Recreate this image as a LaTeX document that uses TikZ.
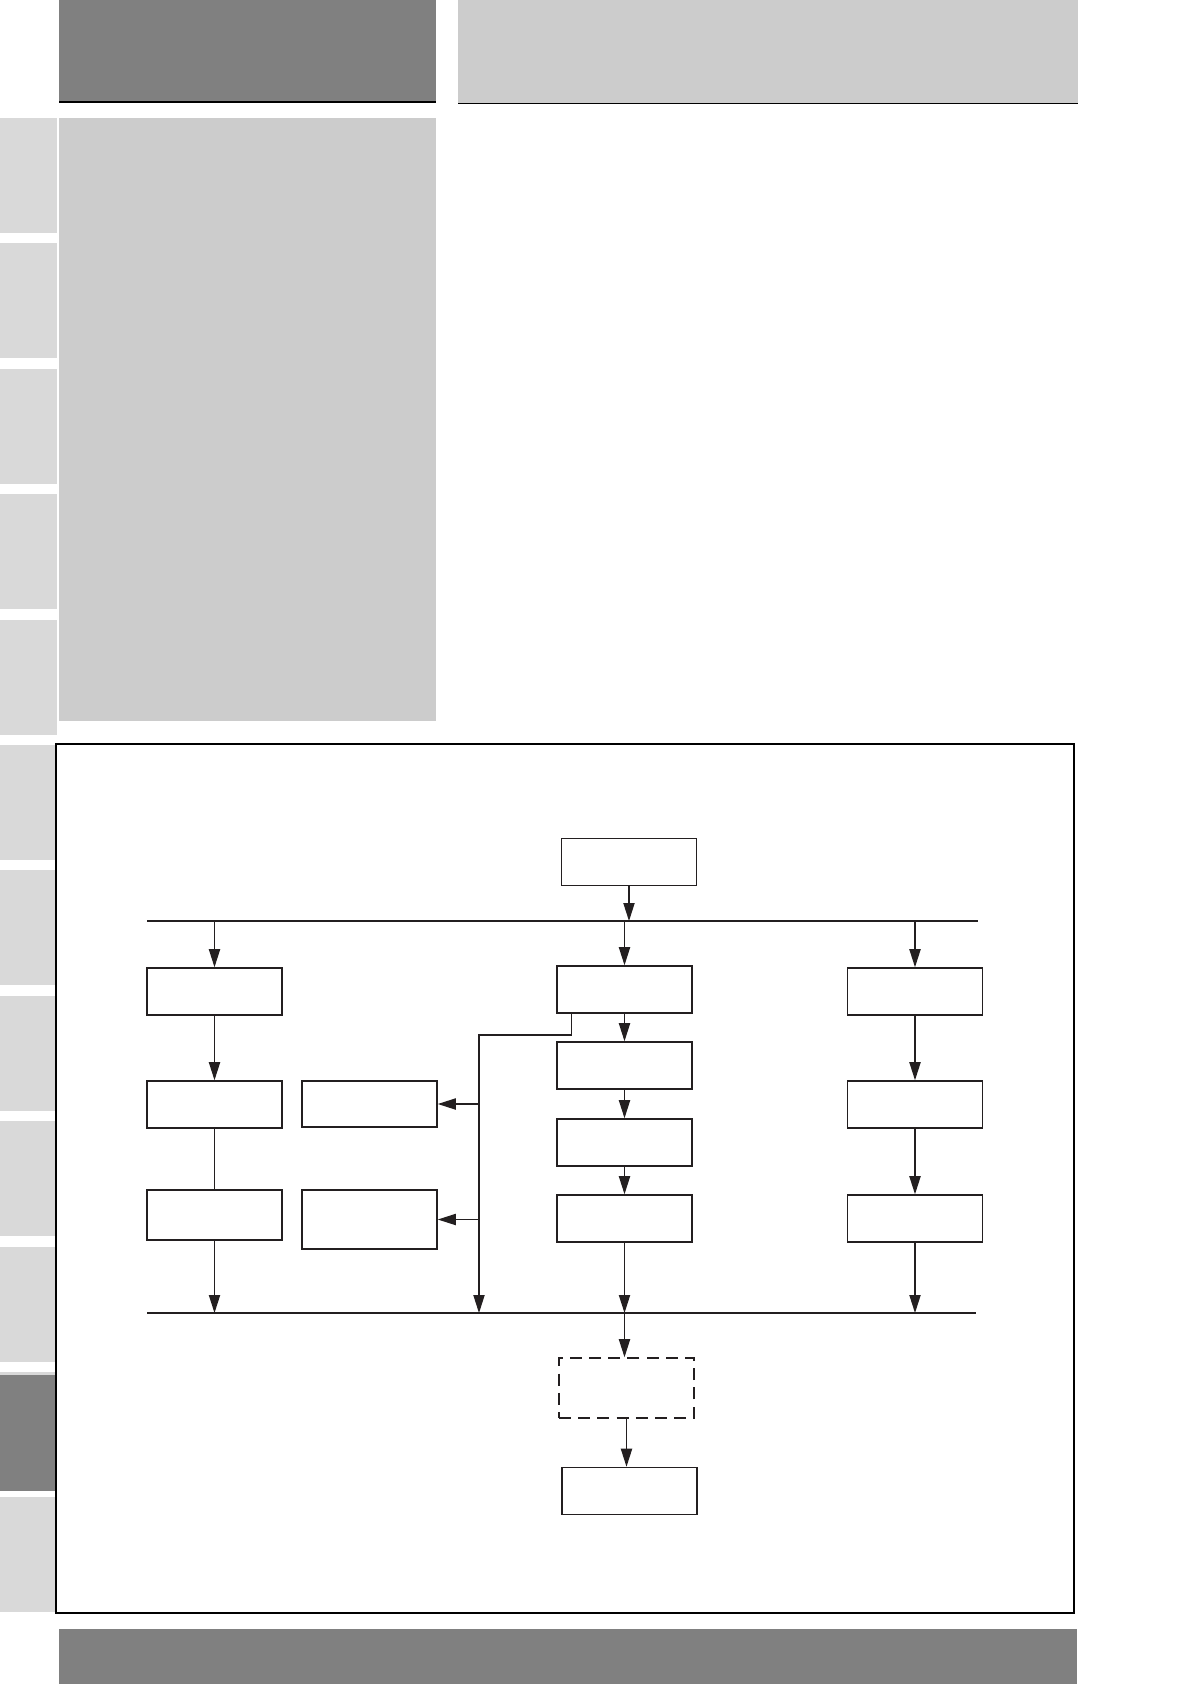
\documentclass[tikz,border=0pt]{standalone}
\usepackage{tikz}
\usepackage{xcolor}
\usetikzlibrary{calc,arrows.meta}
\definecolor{tabGrey}{RGB}{217,217,217}
\definecolor{paleGrey}{RGB}{204,204,204}
\definecolor{midGrey}{RGB}{128,128,128}
\definecolor{inkBlack}{RGB}{35,31,32}
\tikzset{
  blk/.style={draw=inkBlack,line width=1.1pt,inner sep=0pt,minimum width=3.375cm,minimum height=1.175cm},
  dblk/.style={blk,dash pattern=on 0.3cm off 0.18cm},
  arr/.style={draw=inkBlack,line width=0.9pt,-{Triangle[length=0.45cm,width=0.28cm]}},
  wire/.style={draw=inkBlack,line width=0.9pt},
}

\begin{document}
\begin{tikzpicture}[x=0.025cm,y=-0.025cm]
\useasboundingbox (0,0) rectangle (1190,1684);
% page furniture
\fill[midGrey] (59,0) rectangle (436,102);
\fill[paleGrey] (458,0) rectangle (1078,103);
\draw[black,line width=1.4pt] (59,102) -- (436,102);
\draw[black,line width=1.4pt] (458,103.5) -- (1078,103.5);
\fill[paleGrey] (59,118) rectangle (436,721);
\foreach \k in {0,...,11}
  \fill[tabGrey] (0,{118+125.4*\k}) rectangle (57,{233+125.4*\k});
\fill[midGrey] (0,1375) rectangle (57,1491);
\fill[midGrey] (59,1629) rectangle (1077,1684);
\fill[white] (56,744) rectangle (1074,1613);
\draw[black,line width=1.2pt] (56,744) rectangle (1074,1613);

% blocks
\node[blk] (top) at (629,862) {};
\node[blk] (L1) at (214.5,991.5) {};
\node[blk] (C1) at (624.5,989.5) {};
\node[blk] (R1) at (915,991.5) {};
\node[blk] (L2) at (214.5,1104.5) {};
\node[blk,minimum height=1.15cm] (M1) at (369.5,1104) {};
\node[blk] (C2) at (624.5,1065.5) {};
\node[blk] (C3) at (624.5,1142.5) {};
\node[blk] (R2) at (915,1104.5) {};
\node[blk,minimum height=1.25cm] (L3) at (214.5,1215) {};
\node[blk,minimum height=1.475cm] (M2) at (369.5,1219.5) {};
\node[blk] (C4) at (624.5,1218.5) {};
\node[blk] (R3) at (915,1218.5) {};
\node[dblk,minimum height=1.5cm] (D) at (626.5,1388) {};
\node[blk] (F) at (629.5,1491) {};

% buses
\coordinate (busA) at (147,921);
\coordinate (busAe) at (978,921);
\coordinate (busB) at (147,1313);
\coordinate (busBe) at (976,1313);
\coordinate (split) at (479,1035);
\draw[wire] (busA) -- (busAe);
\draw[wire] (busB) -- (busBe);

% connectors
\draw[arr] (top.south) -- (top.south |- busA);
\draw[arr] (L1.north |- busA) -- (L1.north);
\draw[arr] (C1.north |- busA) -- (C1.north);
\draw[arr] (R1.north |- busA) -- (R1.north);
\draw[arr] (L1.south) -- (L2.north);
\draw[wire] (L2.south) -- (L3.north);
\draw[arr] (L3.south) -- (L3.south |- busB);
\draw[arr] (C1.south) -- (C2.north);
\draw[arr] (C2.south) -- (C3.north);
\draw[arr] (C3.south) -- (C4.north);
\draw[arr] (C4.south) -- (C4.south |- busB);
\draw[arr] (R1.south) -- (R2.north);
\draw[arr] (R2.south) -- (R3.north);
\draw[arr] (R3.south) -- (R3.south |- busB);
\draw[arr] ($(C1.south west)+(15,0)$) |- (split) -- (split |- busB);
\draw[arr] (split |- M1.east) -- (M1.east);
\draw[arr] (split |- M2.east) -- (M2.east);
\draw[arr] (C4.south |- busB) -- (C4.south |- D.north);
\draw[arr] (D.south) -- (D.south |- F.north);
\end{tikzpicture}
\end{document}
